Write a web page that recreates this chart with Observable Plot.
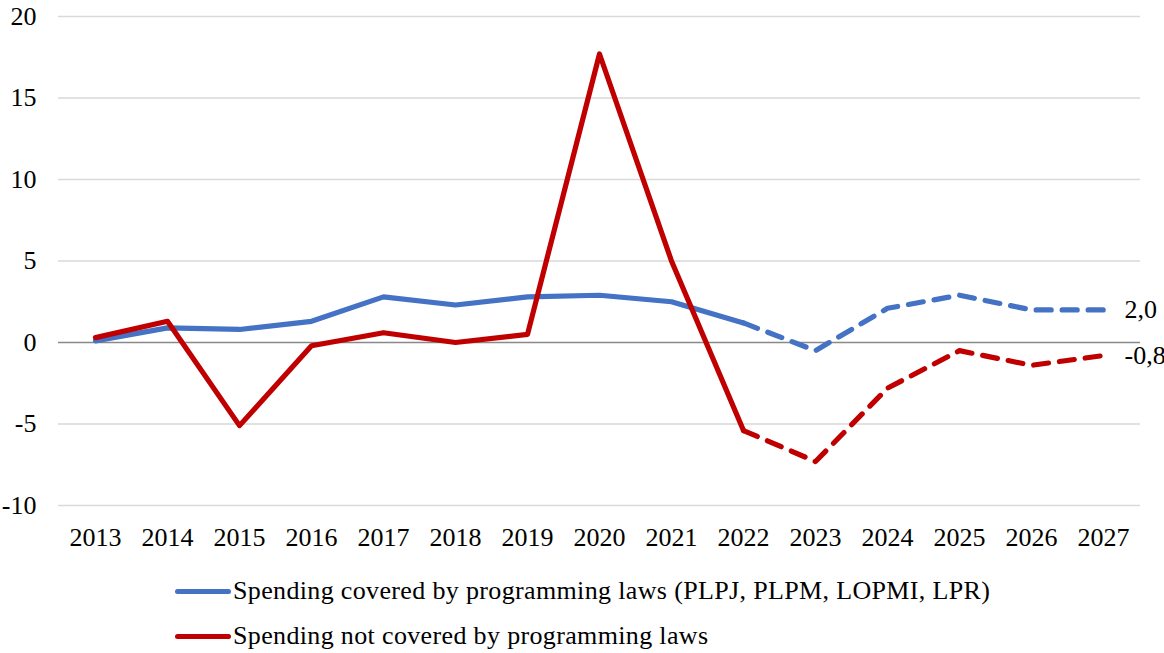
<!DOCTYPE html>
<html>
<head>
<meta charset="utf-8">
<script src="https://cdn.jsdelivr.net/npm/d3@7"></script>
<script src="https://cdn.jsdelivr.net/npm/@observablehq/plot@0.6"></script>
<style>
  html, body { margin: 0; padding: 0; background: #fff; }
  body { width: 1164px; height: 653px; overflow: hidden; font-family: "Liberation Serif", "Times New Roman", serif; }
  #legend { position: relative; height: 88px; }
  .item { position: absolute; left: 175px; display: flex; align-items: center; font-size: 26px; letter-spacing: 0.35px; color: #000; white-space: nowrap; }
  .sw { width: 56px; height: 5px; border-radius: 3px; margin-right: 2px; }
</style>
</head>
<body>
<div id="chart"></div>
<div id="legend"></div>
<script>
const years = ["2013","2014","2015","2016","2017","2018","2019","2020","2021","2022","2023","2024","2025","2026","2027"];
const covered = [0.1, 0.9, 0.8, 1.3, 2.8, 2.3, 2.8, 2.9, 2.5, 1.2, -0.5, 2.1, 2.9, 2.0, 2.0];
const notCovered = [0.3, 1.3, -5.1, -0.2, 0.6, 0.0, 0.5, 17.7, 5.0, -5.4, -7.3, -2.8, -0.5, -1.4, -0.8];
const seriesNames = ["Spending covered by programming laws (PLPJ, PLPM, LOPMI, LPR)", "Spending not covered by programming laws"];
const colors = ["#4472C4", "#C00000"];
const yTicks = [-10, -5, 0, 5, 10, 15, 20];
const forecastStart = "2022";

const rows = [];
[covered, notCovered].forEach((vals, si) => {
  vals.forEach((v, i) => rows.push({year: years[i], value: v, series: seriesNames[si], idx: i}));
});
const fIdx = years.indexOf(forecastStart);
const solid = rows.filter(d => d.idx <= fIdx);
const dashed = rows.filter(d => d.idx >= fIdx);
const last = rows.filter(d => d.idx === years.length - 1);

const serif = "'Liberation Serif', 'Times New Roman', serif";
const chart = Plot.plot({
  width: 1164,
  height: 565,
  marginLeft: 58,
  marginRight: 24,
  marginTop: 16,
  marginBottom: 60,
  style: {fontFamily: serif, fontSize: "26px", color: "#000", overflow: "visible"},
  x: {type: "point", domain: years, padding: 0.5, label: null},
  y: {domain: [-10, 20], ticks: yTicks, label: null},
  color: {domain: seriesNames, range: colors},
  marks: [
    Plot.gridY(yTicks.filter(t => t !== 0), {stroke: "#d9d9d9", strokeOpacity: 1, strokeWidth: 1.5}),
    Plot.ruleY([0], {stroke: "#898989", strokeWidth: 1.5}),
    Plot.axisY({ticks: yTicks, tickSize: 0, tickPadding: 22, fontSize: 26, fontFamily: serif, tickFormat: d => String(d)}),
    Plot.axisX({tickSize: 0, tickPadding: 22, fontSize: 26, fontFamily: serif}),
    Plot.line(solid, {x: "year", y: "value", z: "series", stroke: "series", strokeWidth: 5.2, strokeLinejoin: "round"}),
    Plot.line(dashed, {x: "year", y: "value", z: "series", stroke: "series", strokeWidth: 5.2, strokeDasharray: "15,11", strokeLinecap: "round", strokeLinejoin: "round"}),
    Plot.text(last, {x: "year", y: "value", text: d => d3.format(".1f")(d.value).replace(".", ",").replace("−", "-"), textAnchor: "start", dx: 21, fontSize: 26, fontFamily: serif, fill: "#000"})
  ]
});
document.getElementById("chart").appendChild(chart);

const legend = document.getElementById("legend");
seriesNames.forEach((name, i) => {
  const item = document.createElement("div");
  item.className = "item";
  item.style.top = (i === 0 ? 11 : 56) + "px";
  item.innerHTML = `<span class="sw" style="background:${colors[i]}"></span><span>${name}</span>`;
  legend.appendChild(item);
});
</script>
</body>
</html>
